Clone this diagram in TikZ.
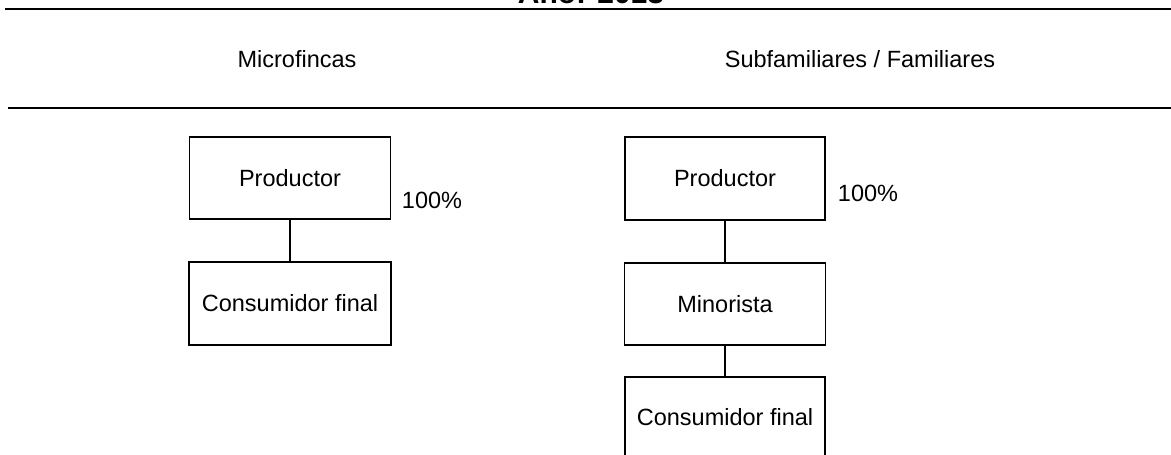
\documentclass[tikz,border=0pt]{standalone}
\usepackage{fontspec}
\setmainfont{Liberation Sans}
\begin{document}
\begin{tikzpicture}[x=1pt,y=-1pt,
  lbl/.style={font=\fontsize{23.5}{26}\selectfont, inner sep=0pt},
  box/.style={draw, line width=1.3pt, inner sep=0pt, font=\fontsize{23.5}{26}\selectfont},
  rule/.style={line width=1.6pt},
  link/.style={line width=1.3pt}]
\useasboundingbox (0,0) rectangle (1171,455);
\clip (0,0) rectangle (1171,455);
% title (clipped at top)
\node[anchor=base, inner sep=0pt, font=\fontsize{30}{32}\selectfont\bfseries] (title) at (591,3) {Año: 2013};
% rules
\coordinate (r1a) at (5,9);   \coordinate (r1b) at (1171,9);
\coordinate (r2a) at (8,108); \coordinate (r2b) at (1171,108);
\draw[rule] (r1a) -- (r1b);
\draw[rule] (r2a) -- (r2b);
% headers
\node[lbl, anchor=base] (h1) at (297,67) {Microfincas};
\node[lbl, anchor=base] (h2) at (860,67) {Subfamiliares / Familiares};
% left chain
\node[box, minimum width=201pt, minimum height=82pt] (lp) at (290,178) {Productor};
\node[box, minimum width=202pt, minimum height=83pt] (lc) at (290,303.5) {Consumidor final};
\node[lbl, anchor=base] (lpct) at (432,208) {100\%};
\draw[link] (lp) -- (lc);
% right chain
\node[box, minimum width=200pt, minimum height=83pt] (rp) at (725,178.5) {Productor};
\node[box, minimum width=201pt, minimum height=82pt] (rm) at (725,304) {Minorista};
\node[box, minimum width=200pt, minimum height=80pt] (rc) at (725,417) {Consumidor final};
\node[lbl, anchor=base] (rpct) at (868,201) {100\%};
\draw[link] (rp) -- (rm);
\draw[link] (rm) -- (rc);
\end{tikzpicture}
\end{document}
